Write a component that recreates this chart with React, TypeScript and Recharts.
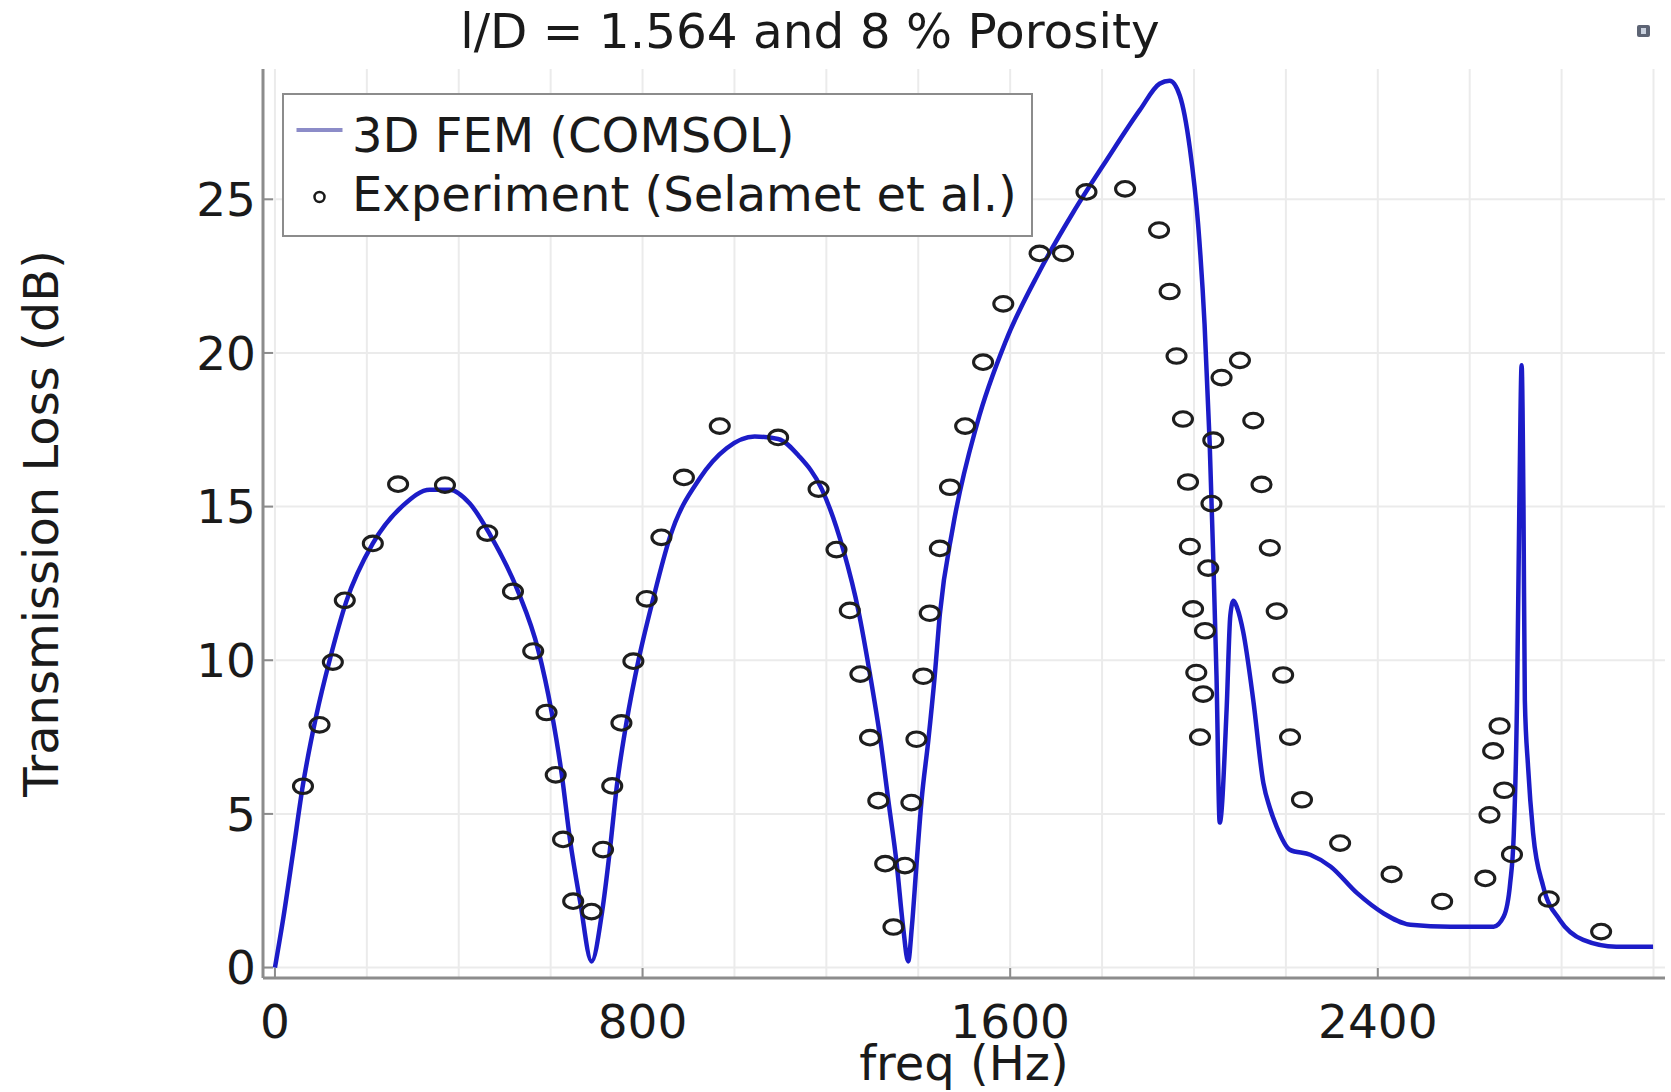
import React from 'react';
import {
  ComposedChart,
  Line,
  Scatter,
  XAxis,
  YAxis,
  CartesianGrid,
  Legend,
  Label,
} from 'recharts';

// 3D FEM (COMSOL) curve
const femFreq = [
  0, 17, 39, 61, 90, 119, 155, 213, 279, 337, 380, 424, 468, 529, 573, 602, 624, 642, 664, 689,
  712, 729, 744, 765, 791, 823, 860, 925, 983, 1044, 1095, 1140, 1190, 1237, 1270, 1295, 1317, 1335,
  1353, 1367, 1378, 1386, 1396, 1407, 1422, 1436, 1447, 1475, 1528, 1590, 1664, 1737, 1810, 1882,
  1925, 1947, 1969, 1991, 2009, 2023, 2034, 2042, 2049, 2056, 2071, 2079, 2086, 2094, 2107, 2129,
  2151, 2165, 2180, 2209, 2253, 2297, 2355, 2413, 2471, 2558, 2652, 2674, 2688, 2696, 2703, 2708,
  2713, 2717, 2720, 2727, 2738, 2760, 2796, 2847, 2919, 2999,
];
const femTL = [
  0, 1.5, 3.7, 5.95, 8.2, 10.0, 11.9, 13.8, 15.04, 15.55, 15.55, 15.1, 14.09, 12.24, 10.33, 8.32,
  6.3, 4.17, 2.16, 0.2, 1.82, 3.84, 5.91, 7.98, 9.99, 11.99, 14.03, 15.93, 16.9, 17.28, 17.2, 16.65,
  15.57, 13.58, 11.59, 9.53, 7.48, 5.42, 3.38, 1.32, 0.2, 1.32, 3.32, 5.42, 7.41, 9.53, 11.5, 14.3,
  17.7, 20.37, 22.66, 24.57, 26.28, 27.9, 28.76, 28.86, 28.38, 26.66, 24.18, 20.94, 17.12, 13.3,
  9.49, 4.72, 8.4, 11.45, 11.94, 11.7, 10.93, 8.7, 6.0, 5.2, 4.58, 3.83, 3.67, 3.29, 2.42, 1.76,
  1.39, 1.33, 1.33, 1.66, 2.74, 4.37, 8.7, 15, 19.6, 15, 8.7, 6.54, 4.37, 2.64, 1.55, 0.9, 0.68,
  0.68,
];

// Experiment (Selamet et al.)
const expFreq = [
  61, 97, 126, 152, 213, 268, 370, 462, 518, 562, 591, 611, 627, 649, 689, 714, 734, 754, 780, 809,
  841, 890, 968, 1095, 1183, 1222, 1251, 1274, 1295, 1313, 1328, 1346, 1371, 1385, 1396, 1411, 1425,
  1447, 1469, 1502, 1541, 1585, 1664, 1715, 1766, 1850, 1924, 1947, 1962, 1976, 1987, 1991, 1998,
  2005, 2013, 2020, 2024, 2031, 2038, 2042, 2060, 2100, 2129, 2147, 2165, 2180, 2194, 2209, 2235,
  2318, 2430, 2540, 2634, 2643, 2651, 2665, 2675, 2692, 2772, 2886,
];
const expTL = [
  5.9, 7.9, 9.94, 11.95, 13.8, 15.73, 15.7, 14.14, 12.24, 10.3, 8.3, 6.27, 4.17, 2.16, 1.82, 3.84,
  5.91, 7.96, 9.97, 12.0, 14.0, 15.95, 17.62, 17.25, 15.57, 13.6, 11.62, 9.55, 7.48, 5.43, 3.38,
  1.32, 3.32, 5.37, 7.43, 9.48, 11.53, 13.64, 15.63, 17.62, 19.7, 21.6, 23.24, 23.24, 25.24, 25.34,
  24.0, 22.0, 19.9, 17.85, 15.8, 13.7, 11.67, 9.6, 7.5, 8.9, 10.96, 13.0, 15.1, 17.16, 19.2, 19.76,
  17.8, 15.72, 13.66, 11.6, 9.52, 7.5, 5.46, 4.05, 3.03, 2.15, 2.9, 4.97, 7.05, 7.86, 5.77, 3.68,
  2.23, 1.17,
];

const xTicks = [0, 800, 1600, 2400];
const yTicks = [0, 5, 10, 15, 20, 25];
const xGrid = [0, 200, 400, 600, 800, 1000, 1200, 1400, 1600, 1800, 2000, 2200, 2400, 2600, 2800, 3000];
const yGrid = [0, 5, 10, 15, 20, 25];
const xDomain = [-26, 3025];
const yDomain = [-0.34, 29.24];

const femData = femFreq.map((f, i) => ({ f, tl: femTL[i] }));
const expData = expFreq.map((f, i) => ({ f, tl: expTL[i] }));

const FONT = '"DejaVu Sans", Verdana, sans-serif';
const TEXT = '#1a1a1a';
const FRAME = '#8c8c8c';
const BLUE = '#1c1cc8';

const ExpMarker = (p: any) => (
  <ellipse cx={p.cx} cy={p.cy} rx={9.5} ry={7.3} fill="none" stroke="#1e1e1e" strokeWidth={3.1} />
);

const LegendBox = (props: any) => {
  const items = props.payload || [];
  return (
    <div
      style={{
        width: 751,
        height: 144,
        boxSizing: 'border-box',
        border: `2.5px solid ${FRAME}`,
        background: '#fff',
        paddingTop: 11.4,
        fontFamily: FONT,
        fontSize: 48,
        color: TEXT,
      }}
    >
      {items.map((it: any) => (
        <div key={it.value} style={{ display: 'flex', alignItems: 'flex-start', height: 59, lineHeight: '59px' }}>
          <svg width={68} height={59} style={{ flex: 'none' }}>
            {it.type === 'line' ? (
              <line x1={12.5} x2={58.5} y1={24} y2={24} stroke="#8c8cc8" strokeWidth={4} />
            ) : (
              <circle cx={35.5} cy={32} r={5} fill="none" stroke={TEXT} strokeWidth={2.5} />
            )}
          </svg>
          <span style={{ whiteSpace: 'nowrap' }}>{it.value}</span>
        </div>
      ))}
    </div>
  );
};

const App: React.FC = () => {
  const axisLine = { stroke: FRAME, strokeWidth: 3 };
  const tickLine = { stroke: FRAME, strokeWidth: 2 };
  const tick = { fill: TEXT, fontSize: 47, fontFamily: FONT };

  return (
    <div style={{ position: 'absolute', left: 0, top: 0, width: 1671, height: 1092, background: '#fff' }}>
      <div
        style={{
          position: 'absolute',
          left: 310,
          top: 2.25,
          width: 1000,
          textAlign: 'center',
          fontFamily: FONT,
          fontSize: 48.5,
          lineHeight: '59px',
          color: TEXT,
          whiteSpace: 'nowrap',
        }}
      >
        l/D = 1.564 and 8 % Porosity
      </div>
      <svg style={{ position: 'absolute', left: 1637, top: 25 }} width={14} height={13}>
        <rect x={0} y={0} width={13} height={12} rx={2} fill="#5d6474" />
        <rect x={4} y={3} width={5} height={6} fill="#c9d1de" />
      </svg>

      <ComposedChart width={1671} height={1092} margin={{ top: 69, right: 6, bottom: 54, left: 183 }}>
        <CartesianGrid
          stroke="#ebebeb"
          strokeWidth={2}
          horizontalValues={yGrid}
          verticalValues={xGrid}
        />
        <XAxis
          dataKey="f"
          type="number"
          domain={xDomain}
          allowDataOverflow
          ticks={xTicks}
          interval={0}
          height={60}
          tickSize={-10}
          tickMargin={37}
          axisLine={axisLine}
          tickLine={tickLine}
          tick={tick}
          label={
            <Label
              content={({ viewBox }: any) => (
                <text
                  x={viewBox.x + viewBox.width / 2}
                  y={viewBox.y + 102}
                  textAnchor="middle"
                  fill={TEXT}
                  fontSize={48}
                  fontFamily={FONT}
                >
                  freq (Hz)
                </text>
              )}
            />
          }
        />
        <XAxis
          xAxisId="top"
          orientation="top"
          type="number"
          domain={xDomain}
          allowDataOverflow
          ticks={xTicks}
          interval={0}
          height={0}
          tick={false}
          tickSize={-10}
          axisLine={axisLine}
          tickLine={tickLine}
        />
        <YAxis
          type="number"
          domain={yDomain}
          allowDataOverflow
          ticks={yTicks}
          interval={0}
          width={80}
          tickSize={-10}
          tickMargin={17}
          axisLine={axisLine}
          tickLine={tickLine}
          tick={tick}
          label={
            <Label
              content={({ viewBox }: any) => (
                <text
                  transform={`translate(${viewBox.x - 125}, ${viewBox.y + viewBox.height / 2}) rotate(-90)`}
                  textAnchor="middle"
                  fill={TEXT}
                  fontSize={48}
                  fontFamily={FONT}
                >
                  Transmission Loss (dB)
                </text>
              )}
            />
          }
        />
        <YAxis
          yAxisId="right"
          orientation="right"
          type="number"
          domain={yDomain}
          allowDataOverflow
          ticks={yTicks}
          interval={0}
          width={0}
          tick={false}
          tickSize={-10}
          axisLine={axisLine}
          tickLine={tickLine}
        />
        <Line
          data={femData}
          dataKey="tl"
          type="monotone"
          name="3D FEM (COMSOL)"
          stroke={BLUE}
          strokeWidth={4.5}
          dot={false}
          activeDot={false}
          isAnimationActive={false}
        />
        <Scatter
          data={expData}
          dataKey="tl"
          name="Experiment (Selamet et al.)"
          fill="none"
          shape={ExpMarker}
          isAnimationActive={false}
        />
        <Legend
          layout="horizontal"
          verticalAlign="middle"
          align="center"
          content={LegendBox}
          wrapperStyle={{ left: 282, top: 93, width: 751, height: 144 }}
        />
      </ComposedChart>
    </div>
  );
};

export default App;
